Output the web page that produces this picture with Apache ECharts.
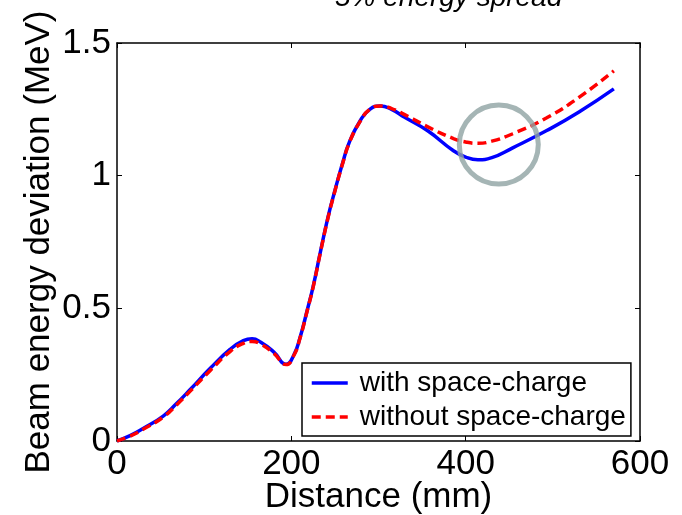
<!DOCTYPE html>
<html>
<head>
<meta charset="utf-8">
<script src="https://cdn.jsdelivr.net/npm/echarts@6/dist/echarts.min.js"></script>
<style>html,body{margin:0;padding:0;background:#fff}#c{width:682px;height:515px}</style>
</head>
<body>
<div id="c"></div>
<script>
var distance = [0, 15, 30, 53, 68, 84, 107, 130, 145, 155, 165, 180, 194, 203, 210, 218, 225, 233, 242, 250, 258, 267, 279, 290, 302, 315, 330, 356, 386, 400, 414, 430, 454, 493, 530, 570];
var withSC = [0, 0.02, 0.047, 0.094, 0.14, 0.194, 0.274, 0.346, 0.378, 0.385, 0.372, 0.335, 0.289, 0.325, 0.39, 0.49, 0.582, 0.707, 0.843, 0.944, 1.038, 1.13, 1.207, 1.25, 1.263, 1.25, 1.22, 1.17, 1.094, 1.07, 1.06, 1.068, 1.105, 1.17, 1.24, 1.327];
var withoutSC = [0, 0.018, 0.044, 0.09, 0.135, 0.188, 0.266, 0.338, 0.368, 0.375, 0.365, 0.33, 0.288, 0.323, 0.388, 0.488, 0.58, 0.705, 0.84, 0.942, 1.036, 1.128, 1.205, 1.25, 1.263, 1.253, 1.23, 1.185, 1.14, 1.127, 1.122, 1.13, 1.158, 1.218, 1.295, 1.395];
var highlight = [[438, 1.117]];
var xTicks = [0, 200, 400, 600];
var yTicks = [0, 0.5, 1, 1.5];
var seriesNames = ['with space-charge', 'without space-charge'];
var titleText = '5% energy spread';
var xName = 'Distance (mm)';
var yName = 'Beam energy deviation (MeV)';

function pairs(xs, ys) { return xs.map(function (x, i) { return [x, ys[i]]; }); }

var FONT = 'Liberation Sans';
var axisCommon = {
  axisLine: { show: true, onZero: false, lineStyle: { color: '#000', width: 1.5 } },
  axisTick: { show: true, inside: true, length: 5, lineStyle: { color: '#000', width: 1 } },
  splitLine: { show: false }
};

var chart = echarts.init(document.getElementById('c'));
chart.setOption({
  animation: false,
  backgroundColor: '#fff',
  title: {
    text: titleText, left: 335, top: -16, padding: 0,
    textStyle: { fontFamily: FONT, fontSize: 28, fontStyle: 'italic', fontWeight: 'normal', color: '#000' }
  },
  grid: { left: 117, right: 42, top: 43, bottom: 74, outerBoundsMode: 'none', containLabel: false },
  legend: {
    data: seriesNames,
    orient: 'vertical',
    left: 302, top: 363,
    padding: [6, 5, 5, 8],
    itemWidth: 36, itemHeight: 14, itemGap: 6,
    borderColor: '#000', borderWidth: 1.5, borderRadius: 0,
    backgroundColor: '#fff',
    itemStyle: { opacity: 0 },
    lineStyle: { width: 3.5 },
    textStyle: { fontFamily: FONT, fontSize: 28, color: '#000', padding: [0, 0, 0, 7] }
  },
  xAxis: [
    Object.assign({}, axisCommon, {
      type: 'value', min: xTicks[0], max: xTicks[xTicks.length - 1], interval: xTicks[1] - xTicks[0],
      position: 'bottom',
      name: xName, nameLocation: 'middle', nameGap: 39, nameMoveOverlap: false,
      nameTextStyle: { fontFamily: FONT, fontSize: 35, color: '#000' },
      axisLabel: { fontFamily: FONT, fontSize: 35, color: '#000', margin: 6 }
    }),
    Object.assign({}, axisCommon, {
      type: 'value', min: xTicks[0], max: xTicks[xTicks.length - 1], interval: xTicks[1] - xTicks[0],
      position: 'top', axisLabel: { show: false }
    })
  ],
  yAxis: [
    Object.assign({}, axisCommon, {
      type: 'value', min: yTicks[0], max: yTicks[yTicks.length - 1], interval: yTicks[1] - yTicks[0],
      position: 'left',
      name: yName, nameLocation: 'middle', nameGap: 60, nameMoveOverlap: false,
      nameTextStyle: { fontFamily: FONT, fontSize: 35, color: '#000' },
      axisLabel: { fontFamily: FONT, fontSize: 35, color: '#000', margin: 6 }
    }),
    Object.assign({}, axisCommon, {
      type: 'value', min: yTicks[0], max: yTicks[yTicks.length - 1], interval: yTicks[1] - yTicks[0],
      position: 'right', axisLabel: { show: false }
    })
  ],
  series: [
    {
      name: seriesNames[0], type: 'line', xAxisIndex: 0, yAxisIndex: 0,
      data: pairs(distance, withSC), symbol: 'none', smooth: 0.5,
      itemStyle: { color: '#0000ff' },
      lineStyle: { color: '#0000ff', width: 3.5 }
    },
    {
      name: seriesNames[1], type: 'line', xAxisIndex: 0, yAxisIndex: 0,
      data: pairs(distance, withoutSC), symbol: 'none', smooth: 0.5,
      itemStyle: { color: '#ff0000' },
      lineStyle: { color: '#ff0000', width: 3.5, type: [9, 5] }
    },
    {
      name: 'highlight', type: 'scatter', xAxisIndex: 0, yAxisIndex: 0,
      data: highlight, symbol: 'circle', symbolSize: 79, silent: true, z: 5,
      itemStyle: { color: 'rgba(0,0,0,0)', borderColor: '#8fa3a3', borderWidth: 5 }
    }
  ]
});
</script>
</body>
</html>
